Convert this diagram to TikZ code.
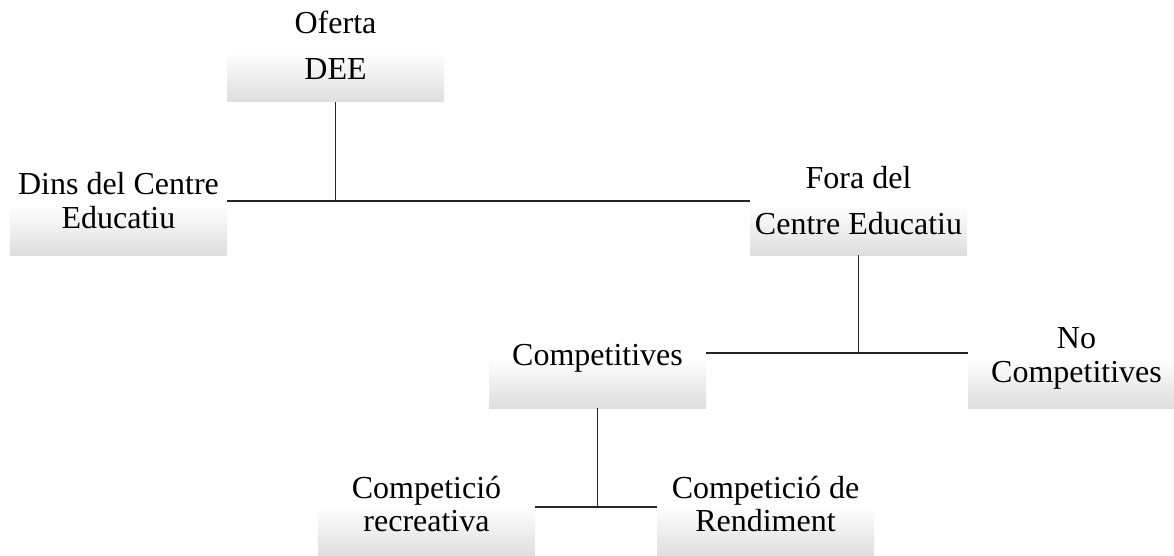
\documentclass[tikz,border=0pt]{standalone}
\usepackage{fontspec}
\setmainfont{Liberation Serif}

\begin{document}
\begin{tikzpicture}[x=1pt,y=-1pt,
    box/.style={rectangle,inner sep=0pt,minimum width=217pt,minimum height=50pt,
      top color=white,bottom color=black!13},
    lbl/.style={anchor=base,inner sep=0pt,font=\fontsize{32}{36}\selectfont}]

      \useasboundingbox (0,0) rectangle (1174,556);
      \clip (0,0) rectangle (1174,556);

      \begin{scope}[every node/.style={box}]
        \node (dee) at (335.5,77) {};
        \node (dins) at (118.5,230) {};
        \node (fora) at (858.5,230) {};
        \node (comp) at (597.5,383) {};
        \node (nocomp) at (1076.5,383) {};
        \node (rec) at (426.5,531) {};
        \node (ren) at (765.5,531) {};
      \end{scope}

      \begin{scope}[every node/.style={lbl}]
        \node (oferta) at (335.5,34) {Oferta};
        \node (deetxt) at (335.5,80) {DEE};
        \node (dinsa) at (118.5,194) {Dins del Centre};
        \node (dinsb) at (118.5,228) {Educatiu};
        \node (foraa) at (858.5,189) {Fora del};
        \node (forab) at (858.5,234) {Centre Educatiu};
        \node (comptxt) at (597.5,365) {Competitives};
        \node (nocompa) at (1076.5,348) {No};
        \node (nocompb) at (1076.5,382) {Competitives};
        \node (reca) at (426.5,498) {Competició};
        \node (recb) at (426.5,531) {recreativa};
        \node (rena) at (765.5,498) {Competició de};
        \node (renb) at (765.5,531) {Rendiment};
      \end{scope}

      \coordinate (j1) at (dee.south |- 0,201);
      \coordinate (j2) at (fora.south |- 0,353);
      \coordinate (j3) at (comp.south |- 0,507);

      \begin{scope}[draw=black!85,line width=1.3pt]
        \draw (dee.south) -- (j1);
        \draw (dins.east |- j1) -- (fora.west |- j1);
        \draw (fora.south) -- (j2);
        \draw (comp.east |- j2) -- (nocomp.west |- j2);
        \draw (comp.south) -- (j3);
        \draw (rec.east |- j3) -- (ren.west |- j3);
      \end{scope}

    \end{tikzpicture}
\end{document}
